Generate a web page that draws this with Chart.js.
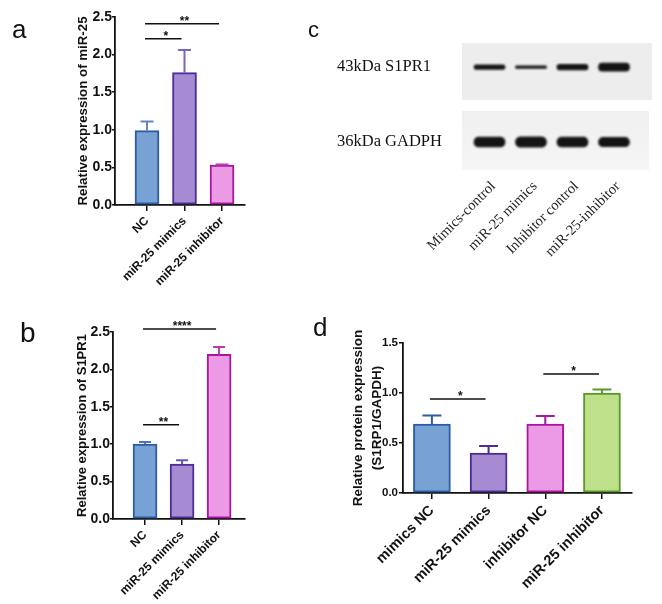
<!DOCTYPE html>
<html><head><meta charset="utf-8">
<script src="https://cdn.jsdelivr.net/npm/chart.js@4.4.1/dist/chart.umd.min.js"></script>
<style>
html,body{margin:0;padding:0;background:#fff;}
#wrap{position:relative;width:662px;height:604px;overflow:hidden;background:#fff;}
canvas{position:absolute;}
.lbl{position:absolute;font-family:'Liberation Sans',Arial,sans-serif;line-height:1;color:#111;}
</style></head><body>
<div id="wrap">
<canvas id="ca" width="260" height="290" style="left:0;top:0;width:260px;height:290px"></canvas>
<canvas id="cb" width="260" height="314" style="left:0;top:290px;width:260px;height:314px"></canvas>
<canvas id="cc" width="362" height="300" style="left:300px;top:0;width:362px;height:300px"></canvas>
<canvas id="cd" width="342" height="284" style="left:320px;top:320px;width:342px;height:284px"></canvas>
<div class="lbl" style="left:12px;top:16px;font-size:26px">a</div>
<div class="lbl" style="left:20px;top:319px;font-size:28px">b</div>
<div class="lbl" style="left:308px;top:19px;font-size:22px">c</div>
<div class="lbl" style="left:313px;top:314px;font-size:26px">d</div>
</div>
<script>
// ---------- data ----------
const groupsA = ['NC', 'miR-25 mimics', 'miR-25 inhibitor'];
const meanA = [0.99, 1.76, 0.53];
const semA = [0.12, 0.30, 0.01];
const sigA = [[0, 1, 2.21, '*'], [0, 2, 2.41, '**']];

const groupsB = ['NC', 'miR-25 mimics', 'miR-25 inhibitor'];
const meanB = [1.00, 0.735, 2.20];
const semB = [0.03, 0.05, 0.10];
const sigB = [[0, 1, 1.26, '**'], [0, 2, 2.54, '****']];

const groupsD = ['mimics NC', 'miR-25 mimics', 'inhibitor NC', 'miR-25 inhibitor'];
const meanD = [0.69, 0.40, 0.69, 1.00];
const semD = [0.085, 0.07, 0.08, 0.035];
const sigD = [[0, 1, 0.94, '*'], [2, 3, 1.19, '*']];

const lanesC = ['Mimics-control', 'miR-25 mimics', 'Inhibitor control', 'miR-25-inhibitor'];
const rowsC = ['43kDa S1PR1', '36kDa GADPH'];
const s1pr1Band = [0.6, 0.35, 0.7, 1.0];
const gadphBand = [0.95, 1.0, 0.95, 0.9];

// ---------- styles ----------
const SANS = "'Liberation Sans', Arial, sans-serif";
const SERIF = "'Liberation Serif', 'Times New Roman', serif";
const FILL = { blue: '#78a1d4', purple: '#a68bd3', pink: '#ec9ae5', green: '#bee08b' };
const EDGE = { blue: '#2d5ca6', purple: '#4a2e96', pink: '#a8179f', green: '#5a9a2a' };

function extrasPlugin(means, sems, errColors, sigs, capW, sigPx) {
  return {
    id: 'extras',
    afterDatasetsDraw(chart) {
      const { ctx, scales: { x, y } } = chart;
      ctx.save();
      means.forEach((m, i) => {
        const px = x.getPixelForValue(i);
        const y0 = y.getPixelForValue(m);
        const y1 = y.getPixelForValue(m + sems[i]);
        ctx.strokeStyle = errColors[i];
        ctx.lineWidth = 2;
        ctx.beginPath();
        ctx.moveTo(px, y0); ctx.lineTo(px, y1);
        ctx.moveTo(px - capW / 2, y1); ctx.lineTo(px + capW / 2, y1);
        ctx.stroke();
      });
      sigs.forEach(([a, b, v, t]) => {
        const xa = x.getPixelForValue(a), xb = x.getPixelForValue(b), py = y.getPixelForValue(v);
        ctx.strokeStyle = '#111'; ctx.lineWidth = 1.5;
        ctx.beginPath(); ctx.moveTo(xa - 2, py); ctx.lineTo(xb - 3, py); ctx.stroke();
        ctx.fillStyle = '#111';
        ctx.font = 'bold ' + sigPx + 'px ' + SANS;
        ctx.textAlign = 'center'; ctx.textBaseline = 'alphabetic';
        ctx.fillText(t, (xa + xb) / 2, py + 1);
      });
      ctx.restore();
    }
  };
}

function barChart(id, o) {
  return new Chart(document.getElementById(id), {
    type: 'bar',
    data: {
      datasets: [{
        data: o.means.map((v, i) => ({ x: i, y: v })),
        backgroundColor: o.fills, borderColor: o.edges, borderWidth: 2,
        borderSkipped: false, barThickness: o.barW
      }]
    },
    options: {
      responsive: false, animation: false, devicePixelRatio: 1,
      layout: { padding: o.pad },
      plugins: { legend: { display: false }, tooltip: { enabled: false } },
      scales: {
        x: {
          type: 'linear', min: o.xMin, max: o.xMax, offset: false,
          afterBuildTicks: s => { s.ticks = o.groups.map((g, i) => ({ value: i })); },
          afterFit: s => { s.height = o.xH; },
          ticks: { autoSkip: false, minRotation: 45, maxRotation: 45, padding: o.xPad, color: '#111',
            font: { family: SANS, size: o.xFont, weight: 'bold' }, callback: v => o.groups[v] },
          grid: { display: true, offset: false, drawOnChartArea: false, drawTicks: true, tickLength: 6, color: '#111', lineWidth: 1.5 },
          border: { display: true, color: '#111', width: 1.8 }
        },
        y: {
          min: 0, max: o.yMax,
          afterFit: s => { s.width = o.yW; },
          ticks: { stepSize: 0.5, padding: o.yPad, color: '#111', font: { family: SANS, size: o.yFont, weight: 'bold' },
            callback: v => Number(v).toFixed(1) },
          grid: { display: true, drawOnChartArea: false, drawTicks: true, tickLength: o.yTick, color: '#111', lineWidth: 1.5 },
          border: { display: true, color: '#111', width: 1.8 },
          title: { display: true, text: o.title, color: '#111', padding: 0,
            font: { family: SANS, size: o.titleFont, weight: 'bold', lineHeight: o.titleLH } }
        }
      }
    },
    plugins: [extrasPlugin(o.means, o.sems, o.errColors, o.sigs, o.capW, o.sigPx)]
  });
}

barChart('ca', {
  groups: groupsA, means: meanA, sems: semA, sigs: sigA,
  fills: [FILL.blue, FILL.purple, FILL.pink], edges: [EDGE.blue, EDGE.purple, EDGE.pink],
  errColors: ['#6384c4', '#7a64bf', '#b240ad'],
  barW: 24, capW: 13, sigPx: 12,
  pad: { left: 75, top: 17, right: 15, bottom: 0 }, xMin: -0.853, xMax: 2.613, xH: 85, yW: 40,
  yMax: 2.5, xFont: 12, yFont: 14, xPad: 3, yPad: 0, yTick: 3,
  title: 'Relative expression of miR-25', titleFont: 13.3, titleLH: 1.2
});

barChart('cb', {
  groups: groupsB, means: meanB, sems: semB, sigs: sigB,
  fills: [FILL.blue, FILL.purple, FILL.pink], edges: [EDGE.blue, EDGE.purple, EDGE.pink],
  errColors: ['#4f74ba', '#6a54b6', '#b33cae'],
  barW: 24, capW: 12, sigPx: 12,
  pad: { left: 75, top: 42, right: 15, bottom: 0 }, xMin: -0.865, xMax: 2.70, xH: 85, yW: 38,
  yMax: 2.5, xFont: 12, yFont: 14, xPad: 3, yPad: 0, yTick: 3,
  title: 'Relative expression of S1PR1', titleFont: 13, titleLH: 1.2
});

barChart('cd', {
  groups: groupsD, means: meanD, sems: semD, sigs: sigD,
  fills: [FILL.blue, FILL.purple, FILL.pink, FILL.green], edges: [EDGE.blue, EDGE.purple, EDGE.pink, EDGE.green],
  errColors: [EDGE.blue, EDGE.purple, EDGE.pink, EDGE.green],
  barW: 37, capW: 19, sigPx: 12,
  pad: { left: 28, top: 23, right: 30, bottom: 0 }, xMin: -0.51, xMax: 3.53, xH: 111, yW: 55,
  yMax: 1.5, xFont: 14.5, yFont: 11.5, xPad: 3, yPad: 1, yTick: 4,
  title: ['Relative protein expression', '(S1RP1/GAPDH)'], titleFont: 13.5, titleLH: 1.45
});

// ---------- western blot (panel c) ----------
const ROW_POS = [0.19, 0.78];
const ROW_HALF = [4 / 127, 5.2 / 127];
const blotPlugin = {
  id: 'blot',
  beforeDatasetsDraw(chart) {
    const { ctx, chartArea: ca, scales: { y } } = chart;
    ctx.fillStyle = '#ededed';
    ctx.fillRect(ca.left, y.getPixelForValue(0), ca.right - ca.left, y.getPixelForValue(0.45) - y.getPixelForValue(0));
    const t = y.getPixelForValue(0.535), b = y.getPixelForValue(1.0);
    const g = ctx.createLinearGradient(0, t, 0, b);
    g.addColorStop(0, '#efefef'); g.addColorStop(1, '#f6f6f6');
    ctx.fillStyle = g;
    ctx.fillRect(ca.left, t, ca.right - ca.left - 3, b - t);
    ctx.save();
    ctx.filter = 'blur(1.3px)';
  },
  afterDatasetsDraw(chart) { chart.ctx.restore(); }
};
const bandSet = (vals, r) => ({
  data: vals.map((v, i) => ({ x: i, y: [ROW_POS[r] - v * ROW_HALF[r], ROW_POS[r] + v * ROW_HALF[r]] })),
  backgroundColor: '#141414', borderWidth: 0, borderRadius: 6, borderSkipped: false,
  barThickness: 31, grouped: false
});
new Chart(document.getElementById('cc'), {
  type: 'bar',
  data: { datasets: [bandSet(s1pr1Band, 0), bandSet(gadphBand, 1)] },
  options: {
    responsive: false, animation: false, devicePixelRatio: 1,
    layout: { padding: { left: 37, top: 43, right: 10, bottom: 0 } },
    plugins: { legend: { display: false }, tooltip: { enabled: false } },
    scales: {
      x: {
        type: 'linear', min: -0.663, max: 3.916, offset: false,
        afterBuildTicks: s => { s.ticks = lanesC.map((l, i) => ({ value: i })); },
        afterFit: s => { s.height = 130; },
        ticks: { autoSkip: false, minRotation: 45, maxRotation: 45, padding: 8, labelOffset: 4, color: '#222',
          font: { family: SERIF, size: 14.5 }, callback: v => lanesC[v] },
        grid: { display: false, offset: false, drawTicks: false }, border: { display: false }
      },
      y: {
        reverse: true, min: 0, max: 1,
        afterBuildTicks: s => { s.ticks = ROW_POS.map(v => ({ value: v })); },
        afterFit: s => { s.width = 125; },
        ticks: { crossAlign: 'far', padding: 0, color: '#111', font: { family: SERIF, size: 16.5 },
          callback: (v, i) => rowsC[i] },
        grid: { display: false, drawTicks: false }, border: { display: false }
      }
    }
  },
  plugins: [blotPlugin]
});
</script>
</body></html>
